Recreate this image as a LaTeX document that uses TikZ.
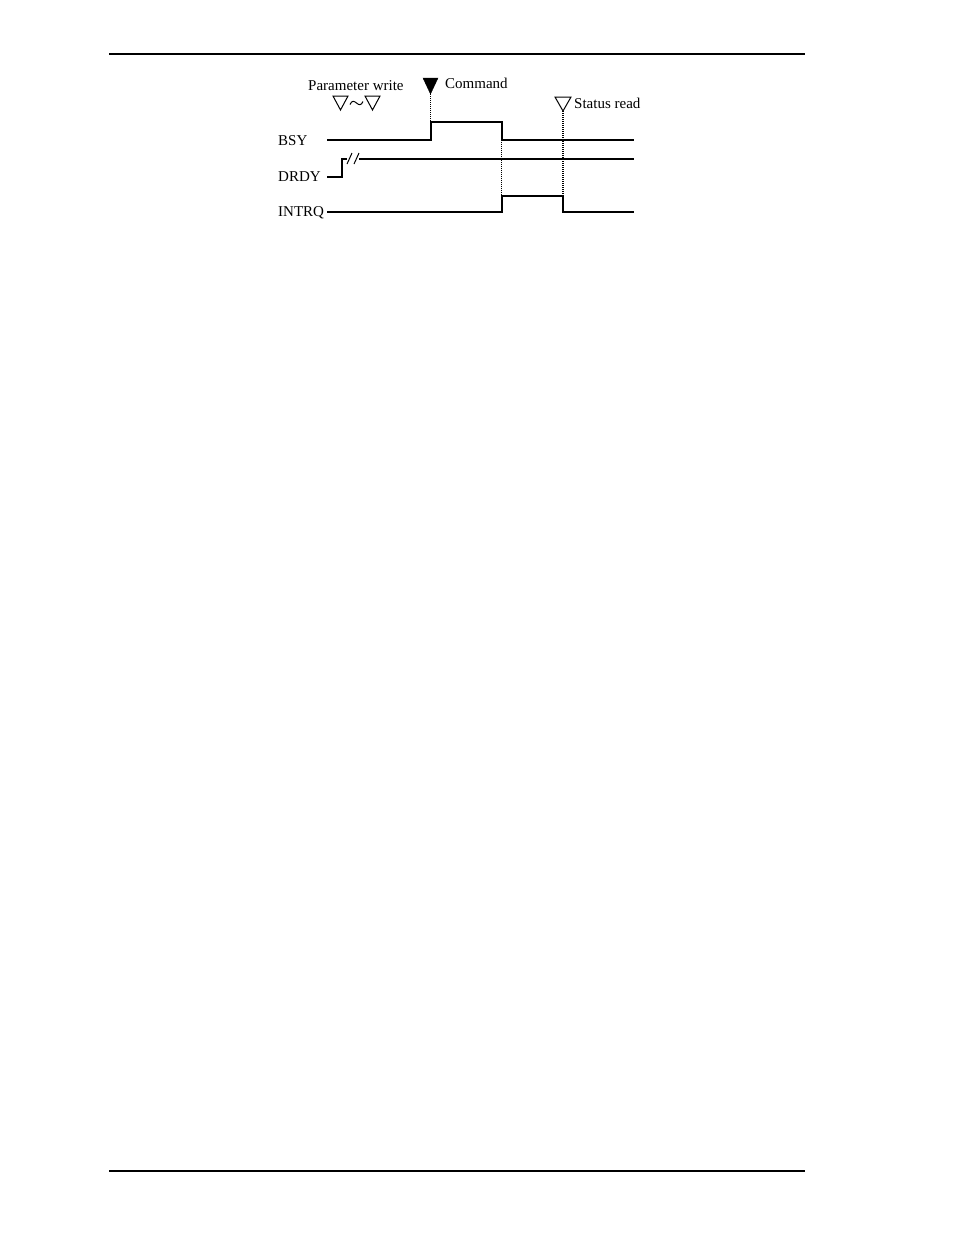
\documentclass[tikz,border=0pt]{standalone}
\usepackage{fontspec}
\setmainfont{Liberation Serif}
\usepackage{tikz}
\usetikzlibrary{positioning}

\tikzset{
	wave/.style={line width=2pt, line join=miter},
	rule/.style={line width=1.6pt},
	marker/.style={line width=1.1pt, dash pattern=on 1pt off 1pt},
	lbl/.style={anchor=base west, inner sep=0pt, font=\fontsize{15}{16}\selectfont},
	opentri/.style={line width=1pt, line join=miter},
	filltri/.style={fill=black},
}

\begin{document}
\begin{tikzpicture}[x=1pt, y=-1pt]
	\useasboundingbox (0,0) rectangle (954,1235);
	% page rules
	\draw[rule] (109,54) -- (805,54);
	\draw[rule] (109,1171) -- (805,1171);
	% signal names
	\node[lbl] (bsy) at (278,145) {BSY};
	\node[lbl] (drdy) at (278,181) {DRDY};
	\node[lbl] (intrq) at (278,216) {INTRQ};
	% event labels
	\node[lbl] (pwrite) at (308,90) {Parameter write};
	\node[lbl] (cmd) at (445,88) {Command};
	\node[lbl] (sread) at (574,108) {Status read};
	% event marks
	\coordinate (cmdtip) at (430.5,94);
	\coordinate (readtip) at (563,111);
	\draw[filltri] (423,78) -- (438,78) -- (cmdtip) -- cycle;
	\draw[opentri] (555,97) -- (571,97) -- (readtip) -- cycle;
	\draw[opentri] (333,96) -- (348,96) -- (340.5,110) -- cycle;
	\draw[opentri] (365,96) -- (380,96) -- (372.5,110) -- cycle;
	\draw[line width=1pt] (350,104.5) .. controls (352,100) and (354,101) .. (356.5,103)
		.. controls (359,105) and (361,106) .. (363,101.5);
	% waveforms
	\coordinate (bsyup) at (430.5,121.5);
	\coordinate (bsydown) at (501.5,139.5);
	\coordinate (intup) at (501.5,195.5);
	\coordinate (intdown) at (563,195.5);
	\draw[wave] (327,139.5) -- (430.5,139.5) -- (bsyup) -- (501.5,121.5) -- (bsydown) -- (634,139.5);
	\draw[wave] (327,177) -- (341.5,177) -- (341.5,158.5) -- (347,158.5);
	\draw[line width=1pt] (347,164) -- (352,153);
	\draw[line width=1pt] (354,164) -- (359,153);
	\draw[wave] (359,158.5) -- (634,158.5);
	\draw[wave] (327,212) -- (501.5,212) -- (intup) -- (intdown) -- (563,212) -- (634,212);
	% timing markers
	\draw[marker] (cmdtip) -- (bsyup);
	\draw[marker] (bsydown) -- (intup);
	\draw[marker] (readtip) -- (intdown);
\end{tikzpicture}
\end{document}
